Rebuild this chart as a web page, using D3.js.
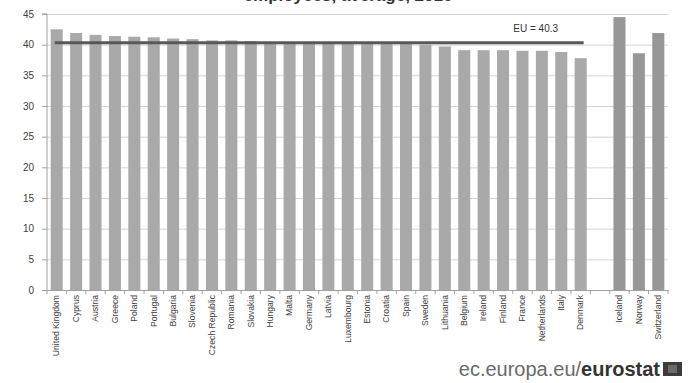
<!DOCTYPE html>
<html>
<head>
<meta charset="utf-8">
<script src="https://cdn.jsdelivr.net/npm/d3@7"></script>
<style>
  body { margin: 0; background: #fff; }
  svg { display: block; font-family: "Liberation Sans", Arial, sans-serif; }
</style>
</head>
<body>
<div id="chart"></div>
<script>
// data
const euCountries = ["United Kingdom", "Cyprus", "Austria", "Greece", "Poland", "Portugal", "Bulgaria",
  "Slovenia", "Czech Republic", "Romania", "Slovakia", "Hungary", "Malta", "Germany", "Latvia",
  "Luxembourg", "Estonia", "Croatia", "Spain", "Sweden", "Lithuania", "Belgium", "Ireland",
  "Finland", "France", "Netherlands", "Italy", "Denmark"];
const euHours = [42.5, 41.9, 41.6, 41.4, 41.3, 41.2, 41.0, 40.9, 40.7, 40.7, 40.6, 40.3, 40.3, 40.2,
  40.2, 40.2, 40.1, 40.1, 40.1, 40.0, 39.7, 39.1, 39.1, 39.1, 39.0, 39.0, 38.8, 37.8];
const otherCountries = ["Iceland", "Norway", "Switzerland"];
const otherHours = [44.5, 38.6, 41.9];
const euAverage = 40.3;
const yTicks = [0, 5, 10, 15, 20, 25, 30, 35, 40, 45];

// set the dimensions and margins of the graph
const W = 688, H = 383;
const margin = {top: 14, right: 20, bottom: 93, left: 47},
      width = W - margin.left - margin.right,
      height = H - margin.top - margin.bottom;

const svg = d3.select("#chart")
              .append("svg")
              .attr("width", W)
              .attr("height", H);

// title: only its lower edge shows at the top of the picture
svg.append("text")
   .attr("x", 348)
   .attr("y", 1)
   .attr("text-anchor", "middle")
   .style("font-size", "17px")
   .style("font-weight", "bold")
   .attr("fill", "#333")
   .text("employees, average, 2016");

const g = svg.append("g")
             .attr("transform", `translate(${margin.left},${margin.top})`);

const bars = euCountries.map((c, i) => ({country: c, value: euHours[i], eu: true}))
  .concat(otherCountries.map((c, i) => ({country: c, value: otherHours[i], eu: false})));

// one empty slot between EU and the others
const slots = euCountries.concat([" "], otherCountries);

const x = d3.scaleBand()
            .domain(slots)
            .range([0, width])
            .paddingInner(0.38)
            .paddingOuter(0.19);

const y = d3.scaleLinear()
            .domain([0, 45])
            .range([height, 0]);

// gridlines
g.append("g")
 .call(d3.axisLeft(y).tickValues(yTicks).tickSize(-width).tickFormat(""))
 .call(a => a.select(".domain").remove())
 .selectAll("line")
 .attr("stroke", "#d4d4d4");

// Y axis
g.append("g")
 .call(d3.axisLeft(y).tickValues(yTicks).tickSize(5).tickPadding(8))
 .call(a => a.select(".domain").attr("stroke", "#a0a0a0").attr("d", `M-5,0H0V${height}`))
 .call(a => a.selectAll("line").attr("stroke", "#a0a0a0"))
 .selectAll("text")
 .style("font-size", "10px")
 .attr("fill", "#404040");

// bars
g.selectAll(".bar")
 .data(bars)
 .join("rect")
 .attr("class", "bar")
 .attr("x", d => x(d.country))
 .attr("y", d => y(d.value))
 .attr("width", x.bandwidth())
 .attr("height", d => height - y(d.value))
 .attr("fill", d => d.eu ? "#a9a9a9" : "#979797");

// X axis
const step = x.step();
const xAxis = g.append("g")
 .attr("transform", `translate(0,${height})`)
 .call(d3.axisBottom(x).tickSize(0).tickPadding(5));
xAxis.select(".domain").attr("stroke", "#a0a0a0");
xAxis.selectAll("text")
 .style("font-size", "8.6px")
 .attr("fill", "#404040")
 .attr("transform", "rotate(-90)")
 .attr("x", -5)
 .attr("y", 0)
 .attr("dy", "0.32em")
 .style("text-anchor", "end");

// tick marks between categories
const boundaries = slots.map(s => x(s) - step * x.paddingInner() / 2).concat([width]);
xAxis.selectAll(".sep")
 .data(boundaries)
 .join("line")
 .attr("class", "sep")
 .attr("x1", d => d).attr("x2", d => d)
 .attr("y1", 0).attr("y2", 4)
 .attr("stroke", "#a0a0a0");

// EU average line
const xStart = x(euCountries[0]) + x.bandwidth() / 2 - 2;
const xEnd = x(euCountries[euCountries.length - 1]) + x.bandwidth() / 2 + 3;
g.append("line")
 .attr("x1", xStart).attr("x2", xEnd)
 .attr("y1", y(euAverage)).attr("y2", y(euAverage))
 .attr("stroke", "#585858")
 .attr("stroke-width", 3);

g.append("text")
 .attr("x", xEnd - 48)
 .attr("y", y(euAverage) - 11)
 .attr("text-anchor", "middle")
 .style("font-size", "10px")
 .attr("fill", "#333")
 .text(`EU = ${euAverage}`);

// footer
const foot = svg.append("text")
   .attr("x", 660)
   .attr("y", 376)
   .attr("text-anchor", "end")
   .style("font-size", "20px");
foot.append("tspan").attr("fill", "#6a6a6a").text("ec.europa.eu/");
foot.append("tspan").attr("fill", "#333").style("font-weight", "bold").text("eurostat");

svg.append("rect")
   .attr("x", 663).attr("y", 362).attr("width", 19).attr("height", 14)
   .attr("fill", "#3c3c3c");
svg.append("rect")
   .attr("x", 668).attr("y", 365).attr("width", 9).attr("height", 8)
   .attr("fill", "#6a6a6a");
</script>
</body>
</html>
